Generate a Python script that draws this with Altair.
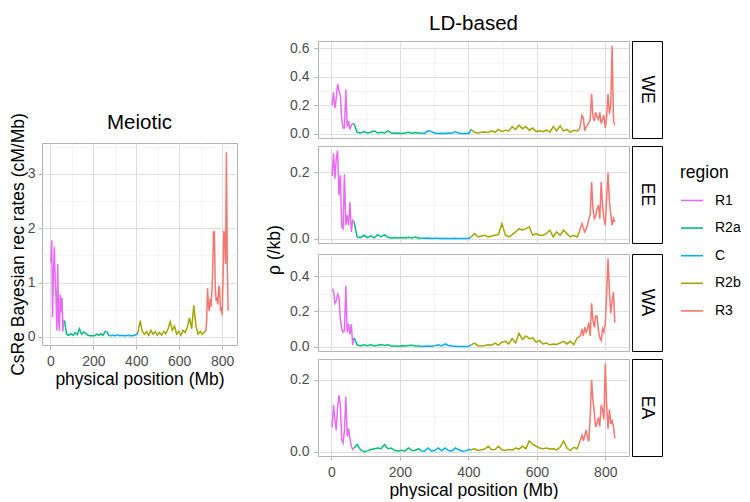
import json
import altair as alt
import pandas as pd

# ---------------- data ----------------
regions = ["R1", "R2a", "C", "R2b", "R3"]
region_colors = ["#E76BF3", "#00BF7D", "#00B0F6", "#A3A500", "#F8766D"]
populations = ["WE", "EE", "WA", "EA"]

pos_R1 = [2, 6, 10, 14, 18, 22, 26, 30, 34, 38, 42, 46, 50, 54, 58, 62]
pos_R2a = [66, 75, 85, 95, 105, 115, 125, 135, 145, 155, 165, 175, 185, 195,
           205, 215, 225, 235, 245, 255]
pos_C = [262, 272, 282, 292, 302, 312, 322, 332, 342, 352, 362, 372, 382, 392, 402]
pos_R2b = [408, 418, 428, 438, 448, 458, 468, 478, 488, 498, 508, 518, 528, 538,
           548, 558, 568, 578, 588, 598, 608, 618, 628, 638, 648, 658, 668, 678,
           688, 698, 708, 718]
pos_R3 = [724, 728, 732, 736, 740, 744, 748, 752, 756, 760, 764, 768, 772, 776,
          780, 784, 788, 792, 796, 800, 804, 808, 812, 816, 820, 824, 828]

meiotic = [
    # R1
    1.37, 1.78, 0.36, 1.15, 1.66, 1.10, 0.72, 0.12, 1.34, 0.30, 0.11, 0.78, 0.45, 0.72, 0.10, 0.30,
    # R2a
    0.30, 0.05, 0.03, 0.06, 0.03, 0.08, 0.04, 0.15, 0.05, 0.09, 0.06, 0.03, 0.02, 0.02, 0.02,
    0.05, 0.03, 0.06, 0.03, 0.10,
    # C
    0.10, 0.03, 0.02, 0.03, 0.02, 0.04, 0.02, 0.03, 0.02, 0.02, 0.03, 0.02, 0.02, 0.03, 0.05,
    # R2b
    0.08, 0.30, 0.10, 0.05, 0.10, 0.03, 0.12, 0.05, 0.10, 0.03, 0.08, 0.03, 0.10, 0.06, 0.15,
    0.28, 0.12, 0.20, 0.05, 0.10, 0.03, 0.12, 0.08, 0.18, 0.35, 0.15, 0.58, 0.20, 0.05, 0.10,
    0.05, 0.10,
    # R3
    0.10, 0.30, 0.90, 0.60, 0.48, 0.70, 0.55, 0.80, 1.20, 1.92, 1.95, 0.90, 0.66, 0.70, 0.60,
    0.94, 0.90, 0.48, 0.55, 0.40, 1.00, 1.95, 1.90, 1.34, 3.40, 1.30, 0.48,
]

ld_WE = [
    0.20, 0.29, 0.18, 0.25, 0.35, 0.30, 0.27, 0.10, 0.04, 0.04, 0.31, 0.05, 0.09, 0.03, 0.06, 0.07,
    0.07, 0.010, 0.005, 0.015, 0.005, 0.010, 0.020, 0.005, 0.010, 0.005, 0.020, 0.005, 0.003,
    0.005, 0.002, 0.005, 0.010, 0.003, 0.008, 0.003,
    0.005, 0.002, 0.020, 0.015, 0.005, 0.002, 0.003, 0.002, 0.005, 0.003, 0.015, 0.003, 0.002,
    0.001, 0.002,
    0.030, 0.010, 0.005, 0.010, 0.012, 0.008, 0.020, 0.010, 0.030, 0.015, 0.025, 0.020, 0.050,
    0.030, 0.060, 0.035, 0.050, 0.025, 0.040, 0.015, 0.020, 0.015, 0.025, 0.010, 0.050, 0.020,
    0.055, 0.020, 0.030, 0.010, 0.025, 0.020,
    0.03, 0.07, 0.13, 0.11, 0.02, 0.05, 0.06, 0.08, 0.10, 0.28, 0.12, 0.09, 0.15, 0.12, 0.10,
    0.15, 0.07, 0.10, 0.13, 0.04, 0.12, 0.28, 0.14, 0.20, 0.62, 0.09, 0.06,
]

ld_EE = [
    0.188, 0.256, 0.180, 0.240, 0.265, 0.130, 0.190, 0.035, 0.030, 0.193, 0.040, 0.070, 0.040,
    0.110, 0.020, 0.055,
    0.050, 0.005, 0.003, 0.010, 0.003, 0.008, 0.002, 0.012, 0.005, 0.012, 0.004, 0.002, 0.003,
    0.002, 0.003, 0.002, 0.004, 0.002, 0.005, 0.001,
    0.002, 0.001, 0.002, 0.000, 0.001, 0.001, 0.000, 0.001, 0.000, 0.000, 0.001, 0.000, 0.000,
    0.000, 0.001,
    0.005, 0.015, 0.005, 0.008, 0.010, 0.005, 0.008, 0.010, 0.012, 0.045, 0.010, 0.005, 0.012,
    0.020, 0.030, 0.025, 0.030, 0.035, 0.010, 0.015, 0.010, 0.010, 0.015, 0.025, 0.005, 0.020,
    0.010, 0.025, 0.015, 0.005, 0.010, 0.005,
    0.020, 0.035, 0.045, 0.030, 0.020, 0.030, 0.040, 0.060, 0.073, 0.170, 0.088, 0.060, 0.068,
    0.090, 0.100, 0.060, 0.170, 0.100, 0.060, 0.040, 0.120, 0.198, 0.113, 0.073, 0.040, 0.060,
    0.050,
]

ld_WA = [
    0.327, 0.315, 0.245, 0.260, 0.296, 0.280, 0.155, 0.100, 0.082, 0.090, 0.345, 0.080, 0.127,
    0.070, 0.127, 0.010,
    0.050, 0.010, 0.003, 0.010, 0.005, 0.010, 0.004, 0.008, 0.012, 0.006, 0.010, 0.004, 0.003,
    0.002, 0.005, 0.003, 0.006, 0.008, 0.004, 0.003,
    0.000, 0.002, 0.004, 0.002, 0.005, 0.010, 0.004, 0.015, 0.006, 0.003, 0.002, 0.001, 0.001,
    0.001, 0.002,
    0.010, 0.020, 0.005, 0.003, 0.006, 0.010, 0.008, 0.020, 0.008, 0.025, 0.030, 0.015, 0.045,
    0.020, 0.075, 0.040, 0.060, 0.045, 0.050, 0.025, 0.035, 0.015, 0.020, 0.010, 0.015, 0.012,
    0.020, 0.030, 0.015, 0.030, 0.010, 0.050,
    0.055, 0.064, 0.100, 0.060, 0.110, 0.082, 0.100, 0.136, 0.060, 0.245, 0.150, 0.109, 0.173,
    0.173, 0.090, 0.050, 0.036, 0.100, 0.082, 0.127, 0.300, 0.500, 0.318, 0.190, 0.255, 0.310,
    0.136,
]

ld_EA = [
    0.068, 0.130, 0.090, 0.060, 0.126, 0.157, 0.130, 0.033, 0.024, 0.060, 0.153, 0.042, 0.064,
    0.037, 0.015, 0.006,
    0.010, 0.020, 0.005, 0.000, 0.002, 0.006, 0.008, 0.010, 0.008, 0.020, 0.008, 0.010, 0.003,
    0.002, 0.004, 0.002, 0.010, 0.003, 0.004, 0.008,
    0.002, 0.001, 0.010, 0.002, 0.003, 0.010, 0.002, 0.010, 0.003, 0.002, 0.010, 0.005, 0.001,
    0.002, 0.006,
    0.005, 0.008, 0.003, 0.005, 0.007, 0.015, 0.005, 0.006, 0.015, 0.005, 0.003, 0.006, 0.004,
    0.010, 0.007, 0.015, 0.008, 0.030, 0.020, 0.015, 0.010, 0.008, 0.010, 0.007, 0.008, 0.005,
    0.012, 0.030, 0.010, 0.003, 0.012, 0.008,
    0.024, 0.035, 0.046, 0.030, 0.045, 0.060, 0.040, 0.028, 0.100, 0.200, 0.144, 0.108, 0.068,
    0.080, 0.095, 0.070, 0.130, 0.117, 0.090, 0.246, 0.130, 0.064, 0.117, 0.077, 0.086, 0.070,
    0.037,
]

ld_series = {"WE": ld_WE, "EE": ld_EE, "WA": ld_WA, "EA": ld_EA}

x_major = [0, 200, 400, 600, 800]
x_minor = [100, 300, 500, 700]
meiotic_major = [0, 1, 2, 3]
meiotic_minor = [0.5, 1.5, 2.5, 3.5]
ld_major = {"WE": [0.0, 0.2, 0.4, 0.6], "EE": [0.0, 0.2], "WA": [0.0, 0.2, 0.4], "EA": [0.0, 0.2]}
ld_minor = {"WE": [0.1, 0.3, 0.5], "EE": [0.1], "WA": [0.1, 0.3, 0.5], "EA": [0.1]}

# ---------------- helpers ----------------
segments = [("R1", pos_R1), ("R2a", pos_R2a), ("C", pos_C), ("R2b", pos_R2b), ("R3", pos_R3)]
positions = pos_R1 + pos_R2a + pos_C + pos_R2b + pos_R3


def series_frame(values):
    rows = []
    start = 0
    for reg, pos in segments:
        n = len(pos)
        for i in range(n):
            rows.append({"pos": pos[i], "value": values[start + i], "region": reg})
        # repeat the next region's first point so the line stays continuous
        if start + n < len(values):
            rows.append({"pos": positions[start + n], "value": values[start + n], "region": reg})
        start += n
    return pd.DataFrame(rows)


def expanded(vals, mult=0.05):
    lo, hi = min(vals), max(vals)
    pad = (hi - lo) * mult
    return [lo - pad, hi + pad]


FONT = "Liberation Sans"
MAJOR = "#dedede"
MINOR = "#efefef"
TICK = "#b3b3b3"
LABEL = "#4d4d4d"
TICK_FS = 14
TITLE_FS = 17.5
HEAD_FS = 20.5
PANEL_H = 97


def grid_axis(major, minor, fmt, show=True, **kw):
    vals = sorted(major + minor)
    test = "indexof(" + json.dumps(minor) + ", datum.value) >= 0"
    args = dict(
        values=vals,
        labelExpr=test + " ? '' : format(datum.value, '" + fmt + "')",
        gridColor={"condition": {"test": test, "value": MINOR}, "value": MAJOR},
        gridWidth={"condition": {"test": test, "value": 0.7}, "value": 1.0},
        tickColor={"condition": {"test": test, "value": "transparent"}, "value": TICK},
        tickSize=4,
        tickWidth=1,
        domain=False,
        labels=show,
        ticks=show,
        labelOverlap=False,
        labelFontSize=TICK_FS,
        labelColor=LABEL,
        labelFont=FONT,
        titleFontSize=TITLE_FS,
        titleFont=FONT,
        titleColor="black",
        titleFontWeight="normal",
    )
    args.update(kw)
    if "title" not in args:
        args["title"] = None
    return alt.Axis(**args)


color_enc = alt.Color(
    "region:N",
    scale=alt.Scale(domain=regions, range=region_colors),
    legend=alt.Legend(
        title="region",
        orient="none",
        legendX=638,
        legendY=155,
        symbolType="stroke",
        symbolSize=484,
        symbolStrokeWidth=1.6,
        titleFontSize=TITLE_FS,
        titleFont=FONT,
        titleFontWeight="normal",
        titleColor="black",
        titlePadding=7,
        labelFontSize=TICK_FS,
        labelFont=FONT,
        labelColor="black",
        labelOffset=11,
        rowPadding=8.6,
    ),
)

xdom = expanded(positions)
blank_df = pd.DataFrame({"v": [0]})
NO_FRAME = alt.ViewBackground(stroke="transparent")

# ---------------- Meiotic panel ----------------
meiotic_head = alt.Chart(blank_df).mark_text().encode(
    text=alt.value("")
).properties(
    width=195, height=100, view=NO_FRAME,
    title=alt.TitleParams("Meiotic", orient="bottom", fontSize=HEAD_FS, font=FONT,
                          fontWeight="normal", color="black", anchor="middle", offset=4),
)

mei_df = series_frame(meiotic)
meiotic_chart = alt.Chart(mei_df).mark_line(strokeWidth=1.5).encode(
    x=alt.X("pos:Q", scale=alt.Scale(domain=xdom, nice=False, zero=False),
            axis=grid_axis(x_major, x_minor, "d", title="physical position (Mb)",
                           labelPadding=5, titlePadding=2)),
    y=alt.Y("value:Q", scale=alt.Scale(domain=expanded(meiotic), nice=False, zero=False),
            axis=grid_axis(meiotic_major, meiotic_minor, "d",
                           title="CsRe Bayesian rec rates (cM/Mb)",
                           labelPadding=3, titlePadding=0)),
    color=color_enc,
).properties(width=195, height=202)

left_block = alt.vconcat(meiotic_head, meiotic_chart, spacing=34, bounds="flush")

# ---------------- rho label ----------------
rho_label = alt.Chart(blank_df).mark_text(
    angle=270, fontSize=TITLE_FS, font=FONT, color="black", align="center", baseline="middle"
).encode(text=alt.value("ρ (/kb)")).properties(width=21, height=482, view=NO_FRAME)

# ---------------- LD-based panels ----------------
ld_head = alt.Chart(blank_df).mark_text(
    fontSize=HEAD_FS, font=FONT, color="black", align="center", baseline="middle"
).encode(text=alt.value("LD-based")).properties(width=311, height=30, view=NO_FRAME)

rows = []
for i, p in enumerate(populations):
    bottom = i == len(populations) - 1
    xkw = dict(labelPadding=5, titlePadding=2)
    if bottom:
        xkw["title"] = "physical position (Mb)"
    vals = ld_series[p]
    panel = alt.Chart(series_frame(vals)).mark_line(strokeWidth=1.5).encode(
        x=alt.X("pos:Q", scale=alt.Scale(domain=xdom, nice=False, zero=False),
                axis=grid_axis(x_major, x_minor, "d", show=bottom, **xkw)),
        y=alt.Y("value:Q", scale=alt.Scale(domain=expanded(vals), nice=False, zero=False),
                axis=grid_axis(ld_major[p], ld_minor[p], ".1f", labelPadding=5)),
        color=color_enc,
    ).properties(width=311, height=PANEL_H)
    strip = alt.Chart(pd.DataFrame({"population": [p]})).mark_text(
        angle=90, fontSize=TITLE_FS, font=FONT, color="black", align="center", baseline="middle"
    ).encode(text="population:N").properties(
        width=30, height=PANEL_H, view=alt.ViewBackground(stroke="black", strokeWidth=1)
    )
    rows.append(alt.hconcat(panel, strip, spacing=1))

rows_block = alt.vconcat(*rows, spacing=3)
right_block = alt.vconcat(ld_head, rows_block, spacing=0)
inner = alt.hconcat(rho_label, right_block, spacing=3)

chart = alt.hconcat(left_block, inner, spacing=25).properties(
    padding={"left": 0, "top": 0, "right": 0, "bottom": 0}
).configure(font=FONT).configure_view(stroke="#b3b3b3", strokeWidth=1)

chart.save("out.html", embed_options={"renderer": "svg", "actions": False})
